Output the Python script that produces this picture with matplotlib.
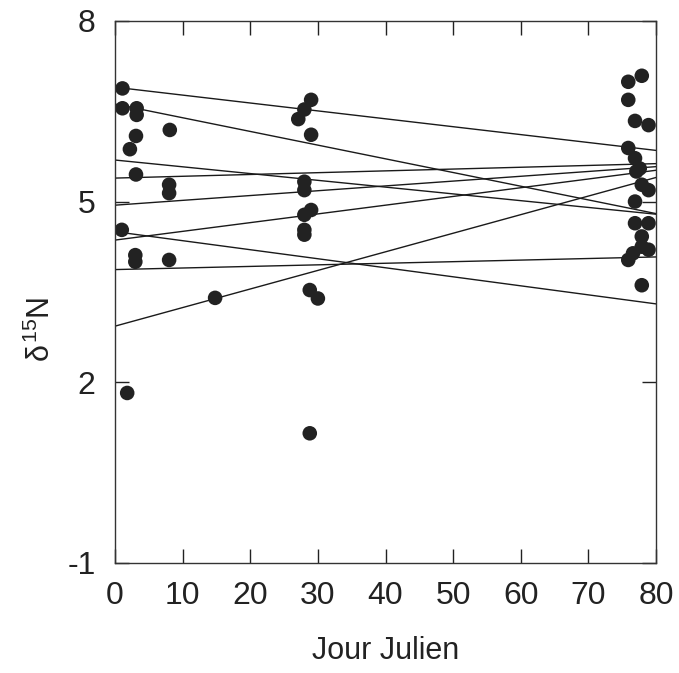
"""Scatter of d15N against Julian day with per-group regression lines."""

import matplotlib

matplotlib.use("Agg")
import matplotlib.pyplot as plt

plt.rcParams["font.family"] = ["Liberation Sans", "DejaVu Sans"]
plt.rcParams["mathtext.fontset"] = "custom"
plt.rcParams["mathtext.rm"] = "Liberation Sans"
plt.rcParams["mathtext.it"] = "Liberation Sans"
plt.rcParams["axes.unicode_minus"] = False

# --------------------------------------------------------------------------- #
# Data
# --------------------------------------------------------------------------- #
day = [
    1.1, 1.1, 1.0,
    2.2, 1.8,
    3.2, 3.2, 3.1, 3.1, 3.0, 3.0,
    8.1, 8.0, 8.0, 8.0,
    14.8,
    27.1,
    28.0, 28.0, 28.0, 28.0, 28.0, 28.0,
    29.0, 29.0, 29.0, 28.8, 28.8,
    30.0,
    75.9, 75.9, 75.9, 75.9,
    76.9, 76.9, 77.1, 76.9, 76.9, 76.6,
    77.9, 77.6, 77.9, 77.9, 77.9, 77.9,
    78.9, 78.9, 78.9, 78.9,
]
d15n = [
    6.88, 6.55, 4.53,
    5.87, 1.82,
    6.55, 6.44, 6.09, 5.45, 4.11, 4.00,
    6.19, 5.28, 5.14, 4.03,
    3.40,
    6.37,
    6.53, 5.33, 5.19, 4.78, 4.53, 4.45,
    6.69, 6.11, 4.86, 3.53, 1.15,
    3.39,
    6.99, 6.69, 5.89, 4.03,
    6.34, 5.72, 5.50, 5.00, 4.64, 4.14,
    7.09, 5.55, 5.28, 4.42, 4.25, 3.61,
    6.27, 5.19, 4.64, 4.20,
]

# regression lines: value at day 0 and at day 80
fit_x = [0, 80]
fit_start = [6.90, 6.62, 5.69, 5.39, 4.94, 4.50, 4.36, 3.87, 2.93]
fit_end = [5.85, 4.80, 4.79, 5.63, 5.58, 3.30, 5.52, 4.08, 5.40]

x_ticks = [0, 10, 20, 30, 40, 50, 60, 70, 80]
y_ticks = [-1, 2, 5, 8]

# --------------------------------------------------------------------------- #
# Plot
# --------------------------------------------------------------------------- #
fig = plt.figure(figsize=(6.79, 6.73), dpi=100)
ax = fig.add_axes((0.1694, 0.1639, 0.7967, 0.8049))

for y0, y1 in zip(fit_start, fit_end):
    ax.plot(fit_x, [y0, y1], color="#1a1a1a", lw=1.0, zorder=1)

ax.scatter(day, d15n, s=110, color="#222222", edgecolors="none", zorder=2)

ax.set_xlim(0, 80)
ax.set_ylim(-1, 8)
ax.set_xticks(x_ticks)
ax.set_yticks(y_ticks)
ax.tick_params(direction="in", length=10, width=1.0, top=True, right=True,
               labelsize=23, colors="#222222")
ax.tick_params(axis="x", pad=13)
ax.tick_params(axis="y", pad=14)
for s in ax.spines.values():
    s.set_linewidth(1.0)
    s.set_color("#333333")

ax.set_xlabel("Jour Julien", fontsize=22, color="#222222", labelpad=18)
ax.set_ylabel(r"$\delta^{15}$N", fontsize=22, color="#222222")
ax.yaxis.set_label_coords(-0.108, 0.43)

fig.savefig("out.png", dpi=100)
plt.close(fig)
